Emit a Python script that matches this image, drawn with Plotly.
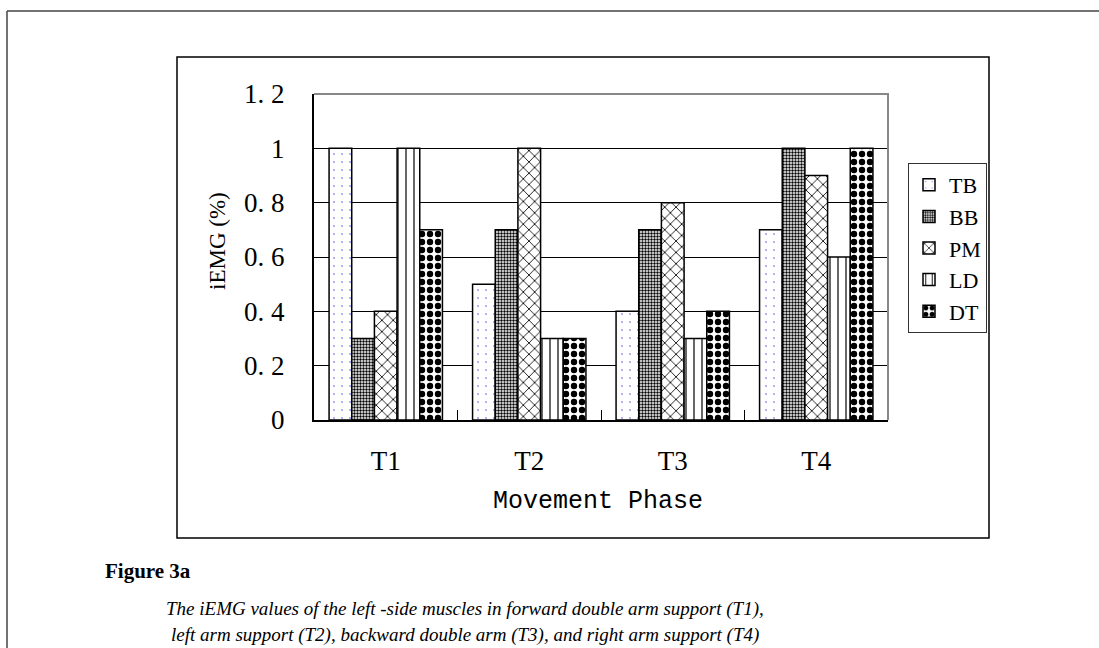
import plotly.graph_objects as go

# ---- data ----
phases = ["T1", "T2", "T3", "T4"]
muscles = ["TB", "BB", "PM", "LD", "DT"]
tb = [1.0, 0.5, 0.4, 0.7]
bb = [0.3, 0.7, 0.7, 1.0]
pm = [0.4, 1.0, 0.8, 0.9]
ld = [1.0, 0.3, 0.3, 0.6]
dt = [0.7, 0.3, 0.4, 1.0]
series = [tb, bb, pm, ld, dt]
y_tickvals = [0, 0.2, 0.4, 0.6, 0.8, 1.0, 1.2]
y_ticktext = ["0", "0. 2", "0. 4", "0. 6", "0. 8", "1", "1. 2"]

W, H = 1099, 648
PL, PR, PT, PB = 314, 888, 94, 420  # plot area in pixels


def px(x):
    return (x - PL) / (PR - PL)


def py(y):
    return (PB - y) / (PB - PT)


patterns = [
    dict(shape=".", fgcolor="#8a8aff", bgcolor="white", size=8, solidity=0.04, fillmode="replace"),
    dict(shape=".", fgcolor="black", bgcolor="white", size=3, solidity=0.5, fillmode="replace"),
    dict(shape="x", fgcolor="black", bgcolor="white", size=8, solidity=0.2, fillmode="replace"),
    dict(shape="|", fgcolor="black", bgcolor="white", size=8, solidity=0.15, fillmode="replace"),
    dict(shape=".", fgcolor="black", bgcolor="white", size=8, solidity=0.5, fillmode="replace"),
]

fig = go.Figure()
for name, vals, pat in zip(muscles, series, patterns):
    fig.add_trace(go.Bar(
        x=phases, y=vals, name=name,
        marker=dict(color="white", pattern=pat, line=dict(color="black", width=1.5)),
    ))

serif = "Liberation Serif"
fig.update_layout(
    width=W, height=H,
    margin=dict(l=PL, r=W - PR, t=PT, b=H - PB),
    paper_bgcolor="white", plot_bgcolor="white",
    barmode="group", bargap=0.21, bargroupgap=0,
    font=dict(family=serif, color="black"),
    showlegend=True,
    legend=dict(
        x=px(908), y=py(163), xanchor="left", yanchor="top",
        bordercolor="#333", borderwidth=1, bgcolor="white",
        font=dict(family=serif, size=22, color="black"),
        itemwidth=30, tracegroupgap=0,
    ),
    xaxis=dict(
        type="category", showgrid=False,
        showline=True, linecolor="black", linewidth=1.5,
        ticks="inside", tickson="boundaries", ticklen=10, tickcolor="black", tickwidth=1,
        tickfont=dict(family=serif, size=27, color="black"),
        ticklabelstandoff=16,
    ),
    yaxis=dict(
        range=[0, 1.2], tickvals=y_tickvals, ticktext=y_ticktext,
        showgrid=True, gridcolor="black", gridwidth=1,
        showline=True, linecolor="black", linewidth=2,
        ticks="", zeroline=False,
        tickfont=dict(family=serif, size=27, color="black"),
        ticklabelstandoff=22,
    ),
)

shapes = [
    # gray plot-area border (top & right)
    dict(type="path", xref="paper", yref="paper", path="M 0 1 L 1 1 L 1 0",
         line=dict(color="#888888", width=2), layer="above"),
    # inner chart frame
    dict(type="rect", xref="paper", yref="paper",
         x0=px(177), x1=px(989), y0=py(538), y1=py(57),
         line=dict(color="black", width=1.5), layer="below"),
    # outer page frame (left and top lines)
    dict(type="line", xref="paper", yref="paper",
         x0=px(7), x1=px(7), y0=py(11), y1=py(H + 5),
         line=dict(color="#444", width=1.5)),
    dict(type="line", xref="paper", yref="paper",
         x0=px(7), x1=px(W + 5), y0=py(11), y1=py(11),
         line=dict(color="#444", width=1.5)),
]
fig.update_layout(shapes=shapes)

annotations = [
    dict(text="iEMG (%)", x=px(218), y=py(241), xref="paper", yref="paper",
         textangle=-90, showarrow=False, xanchor="center", yanchor="middle",
         font=dict(family=serif, size=23, color="black")),
    dict(text="Movement Phase", x=px(598), y=py(502), xref="paper", yref="paper",
         showarrow=False, xanchor="center", yanchor="middle",
         font=dict(family="Liberation Mono", size=25, color="black")),
    dict(text="<b>Figure 3a</b>", x=px(103), y=py(571), xref="paper", yref="paper",
         showarrow=False, xanchor="left", yanchor="middle",
         font=dict(family=serif, size=21, color="black")),
    dict(text="<i>The iEMG values of the left -side muscles in forward double arm support (T1),</i>",
         x=px(465), y=py(609), xref="paper", yref="paper",
         showarrow=False, xanchor="center", yanchor="middle",
         font=dict(family=serif, size=19, color="black")),
    dict(text="<i>left arm support (T2), backward double arm (T3), and right arm support (T4)</i>",
         x=px(465), y=py(635), xref="paper", yref="paper",
         showarrow=False, xanchor="center", yanchor="middle",
         font=dict(family=serif, size=19, color="black")),
]
fig.update_layout(annotations=annotations)

fig.write_html("out.html")
